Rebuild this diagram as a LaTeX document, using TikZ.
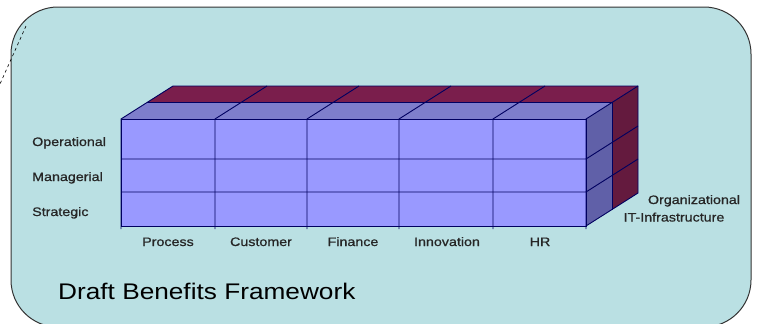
\documentclass[tikz,border=0pt]{standalone}
\usepackage{graphicx}
\usepackage{fontspec}
\setmainfont{Liberation Sans}
\newfontfamily\lblfont[FakeBold=0.7]{Liberation Sans}
\definecolor{bgcol}{RGB}{186,224,227}
\definecolor{frontcol}{RGB}{153,153,255}
\definecolor{topfront}{RGB}{126,126,204}
\definecolor{topback}{RGB}{122,30,76}
\definecolor{sidefront}{RGB}{96,96,168}
\definecolor{sideback}{RGB}{100,26,62}
\definecolor{gridcol}{RGB}{0,0,96}
\tikzset{
  lbl/.style={inner sep=0pt, text=black!85, font=\lblfont\fontsize{12.3}{14}\selectfont},
  title/.style={inner sep=0pt, font=\fontsize{22.6}{27}\selectfont},
  gridline/.style={draw=gridcol, line width=0.9pt},
  panel/.style={draw=black!80, line width=1pt, fill=bgcol, rounded corners=47pt}
}
\newcommand{\wide}[1]{\scalebox{1.16}[1]{#1}}
\begin{document}
\begin{tikzpicture}[x=1pt,y=-1pt]
\useasboundingbox (0,0) rectangle (758,324);
\clip (0,0) rectangle (758,324);
% panel
\draw[panel] (11,7) rectangle (751,327);
\coordinate (d1) at (26,26);
\coordinate (d2) at (0,84);
\draw[dashed, line width=0.6pt] (d1) -- (d2);
% faces
\fill[topfront] (121,119) -- (586,119) -- (612,102.5) -- (147,102.5) -- cycle;
\fill[topback] (147,102.5) -- (612,102.5) -- (638,86) -- (173,86) -- cycle;
\fill[sidefront] (586,119) -- (612,102.5) -- (612,209.5) -- (586,226) -- cycle;
\fill[sideback] (612,102.5) -- (638,86) -- (638,193) -- (612,209.5) -- cycle;
\fill[frontcol] (121,119) rectangle (586,226);
% grid lines
\draw[gridline] (121,119) rectangle (586,226);
\draw[gridline] (121,159) -- (586,159) -- (638,126);
\draw[gridline] (121,192) -- (586,192) -- (638,159);
\foreach \x in {121,215,307,399,493,586} {
  \draw[gridline] (\x,229) -- (\x,119) -- ++(52,-33);
}
\draw[gridline] (173,86) -- (638,86) -- (638,193) -- (586,226);
\draw[gridline] (147,102.5) -- (612,102.5) -- (612,209.5);
% labels
\node[lbl, anchor=base west] (op) at (32,146) {\wide{Operational}};
\node[lbl, anchor=base west] (ma) at (32,181) {\wide{Managerial}};
\node[lbl, anchor=base west] (st) at (32,216) {\wide{Strategic}};
\node[lbl, anchor=base] (pr) at (168,246) {\wide{Process}};
\node[lbl, anchor=base] (cu) at (261,246) {\wide{Customer}};
\node[lbl, anchor=base] (fi) at (353,246) {\wide{Finance}};
\node[lbl, anchor=base] (in) at (447,246) {\wide{Innovation}};
\node[lbl, anchor=base] (hr) at (540,246) {\wide{HR}};
\node[lbl, anchor=base] (org) at (694,204) {\wide{Organizational}};
\node[lbl, anchor=base] (it) at (674,221.5) {\wide{IT-Infrastructure}};
\node[title, anchor=base west] (dbf) at (58,299) {\wide{Draft Benefits Framework}};
\end{tikzpicture}
\end{document}
